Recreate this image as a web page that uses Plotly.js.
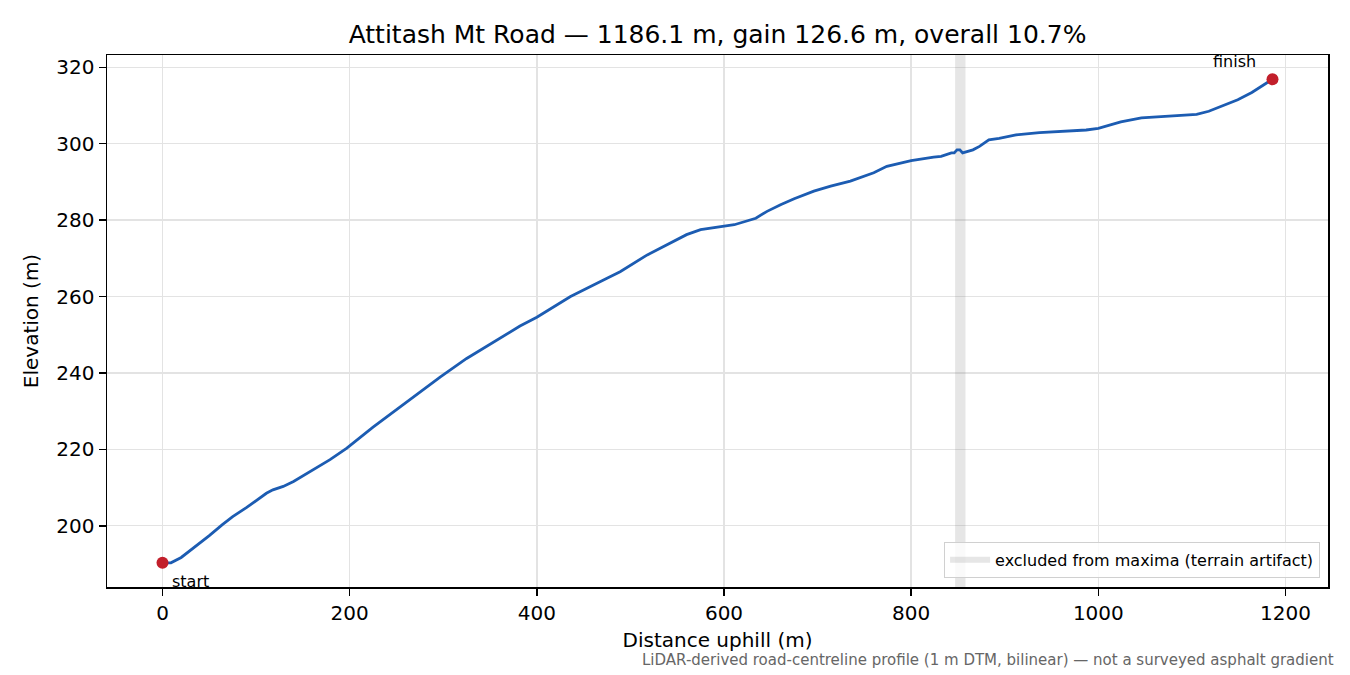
<!DOCTYPE html>
<html>
<head>
<meta charset="utf-8">
<script src="https://cdn.plot.ly/plotly-3.0.1.min.js"></script>
<style>html,body{margin:0;padding:0;background:#fff;}#chart{width:1350px;height:675px;}</style>
</head>
<body>
<div id="chart"></div>
<script>
const distance = [0, 9, 20, 36, 50, 64, 75, 90, 111, 118, 129, 140, 157, 179, 197, 225, 254, 268, 297, 325, 354, 382, 400, 425, 436, 475, 489, 518, 539, 560, 575, 600, 611, 634, 646, 661, 675, 696, 714, 735, 760, 774, 800, 824, 832, 843, 846, 849, 852, 855, 866, 873, 883, 894, 912, 937, 987, 1000, 1024, 1046, 1068, 1105, 1118, 1127, 1149, 1164, 1186.1];
const elevation = [190.3, 190.3, 191.7, 194.7, 197.4, 200.3, 202.4, 204.8, 208.5, 209.4, 210.3, 211.6, 214.0, 217.3, 220.3, 225.8, 231.1, 233.7, 239.0, 243.8, 248.1, 252.3, 254.6, 258.4, 260.0, 264.8, 266.5, 270.9, 273.5, 276.2, 277.5, 278.5, 278.8, 280.5, 282.3, 284.1, 285.6, 287.6, 288.9, 290.2, 292.4, 294.1, 295.6, 296.5, 296.7, 297.6, 297.6, 298.4, 298.4, 297.6, 298.4, 299.3, 301.0, 301.4, 302.3, 302.9, 303.6, 304.0, 305.7, 306.8, 307.2, 307.7, 308.5, 309.4, 311.5, 313.4, 316.9];
const excludedRange = [847, 858];
const endpointLabels = ["start", "finish"];
const xTicks = [0, 200, 400, 600, 800, 1000, 1200];
const yTicks = [200, 220, 240, 260, 280, 300, 320];
const titleText = "Attitash Mt Road — 1186.1 m, gain 126.6 m, overall 10.7%";
const legendText = "excluded from maxima (terrain artifact)";
const footnote = "LiDAR-derived road-centreline profile (1 m DTM, bilinear) — not a surveyed asphalt gradient";

const n = distance.length;
const xMin = Math.min(...distance), xMax = Math.max(...distance);
const yMin = Math.min(...elevation), yMax = Math.max(...elevation);
const xPad = (xMax - xMin) * 0.05, yPad = (yMax - yMin) * 0.05;
const xRange = [xMin - xPad, xMax + xPad];
const yRange = [yMin - yPad, yMax + yPad];

const font = "DejaVu Sans, sans-serif";

const band = {
  x: [excludedRange[0], excludedRange[1], excludedRange[1], excludedRange[0], excludedRange[0]],
  y: [yRange[0], yRange[0], yRange[1], yRange[1], yRange[0]],
  type: "scatter", mode: "none", fill: "toself",
  fillcolor: "rgba(128,128,128,0.2)",
  name: legendText, hoverinfo: "skip", showlegend: true
};
const profile = {
  x: distance, y: elevation, type: "scatter", mode: "lines",
  line: {color: "#1c5cb2", width: 2.8}, showlegend: false
};
const ends = {
  x: [distance[0], distance[n - 1]], y: [elevation[0], elevation[n - 1]],
  type: "scatter", mode: "markers",
  marker: {color: "#c21f2b", size: 12}, showlegend: false
};

const axisCommon = {
  showline: true, mirror: true, linecolor: "#000", linewidth: 1.5,
  ticks: "outside", ticklen: 7, tickwidth: 1.5, tickcolor: "#000",
  showgrid: true, gridcolor: "#e3e3e3", gridwidth: 1.4, zeroline: false,
  tickfont: {family: font, size: 20, color: "#000"}
};

const layout = {
  width: 1350, height: 675,
  margin: {l: 107, r: 22, t: 55, b: 88},
  paper_bgcolor: "#fff", plot_bgcolor: "#fff",
  font: {family: font, color: "#000"},
  title: {text: titleText, font: {family: font, size: 25, color: "#000"}, x: 0.5315, xanchor: "center", y: 0.95, yanchor: "middle"},
  xaxis: Object.assign({}, axisCommon, {
    range: xRange, tickvals: xTicks, ticktext: xTicks.map(String),
    title: {text: "Distance uphill (m)", font: {family: font, size: 20, color: "#000"}, standoff: 9}
  }),
  yaxis: Object.assign({}, axisCommon, {
    range: yRange, tickvals: yTicks, ticktext: yTicks.map(String),
    title: {text: "Elevation (m)", font: {family: font, size: 20, color: "#000"}, standoff: 12}
  }),
  legend: {
    x: 0.9935, y: 0.017, xanchor: "right", yanchor: "bottom",
    bgcolor: "rgba(255,255,255,0.8)", bordercolor: "#d0d0d0", borderwidth: 1,
    font: {family: font, size: 16, color: "#000"}, itemwidth: 40
  },
  annotations: [
    {x: distance[0], y: elevation[0], xref: "x", yref: "y", text: endpointLabels[0], showarrow: false,
     xanchor: "left", yanchor: "middle", xshift: 7, yshift: -19, font: {family: font, size: 16, color: "#000"}},
    {x: distance[n - 1], y: elevation[n - 1], xref: "x", yref: "y", text: endpointLabels[1], showarrow: false,
     xanchor: "right", yanchor: "middle", xshift: -15, yshift: 18, font: {family: font, size: 16, color: "#000"}},
    {x: 1.0065, y: -0.137, xref: "paper", yref: "paper", text: footnote, showarrow: false,
     xanchor: "right", yanchor: "middle", font: {family: font, size: 15, color: "#666"}}
  ]
};

Plotly.newPlot("chart", [band, profile, ends], layout, {displayModeBar: false, staticPlot: true});
</script>
</body>
</html>
